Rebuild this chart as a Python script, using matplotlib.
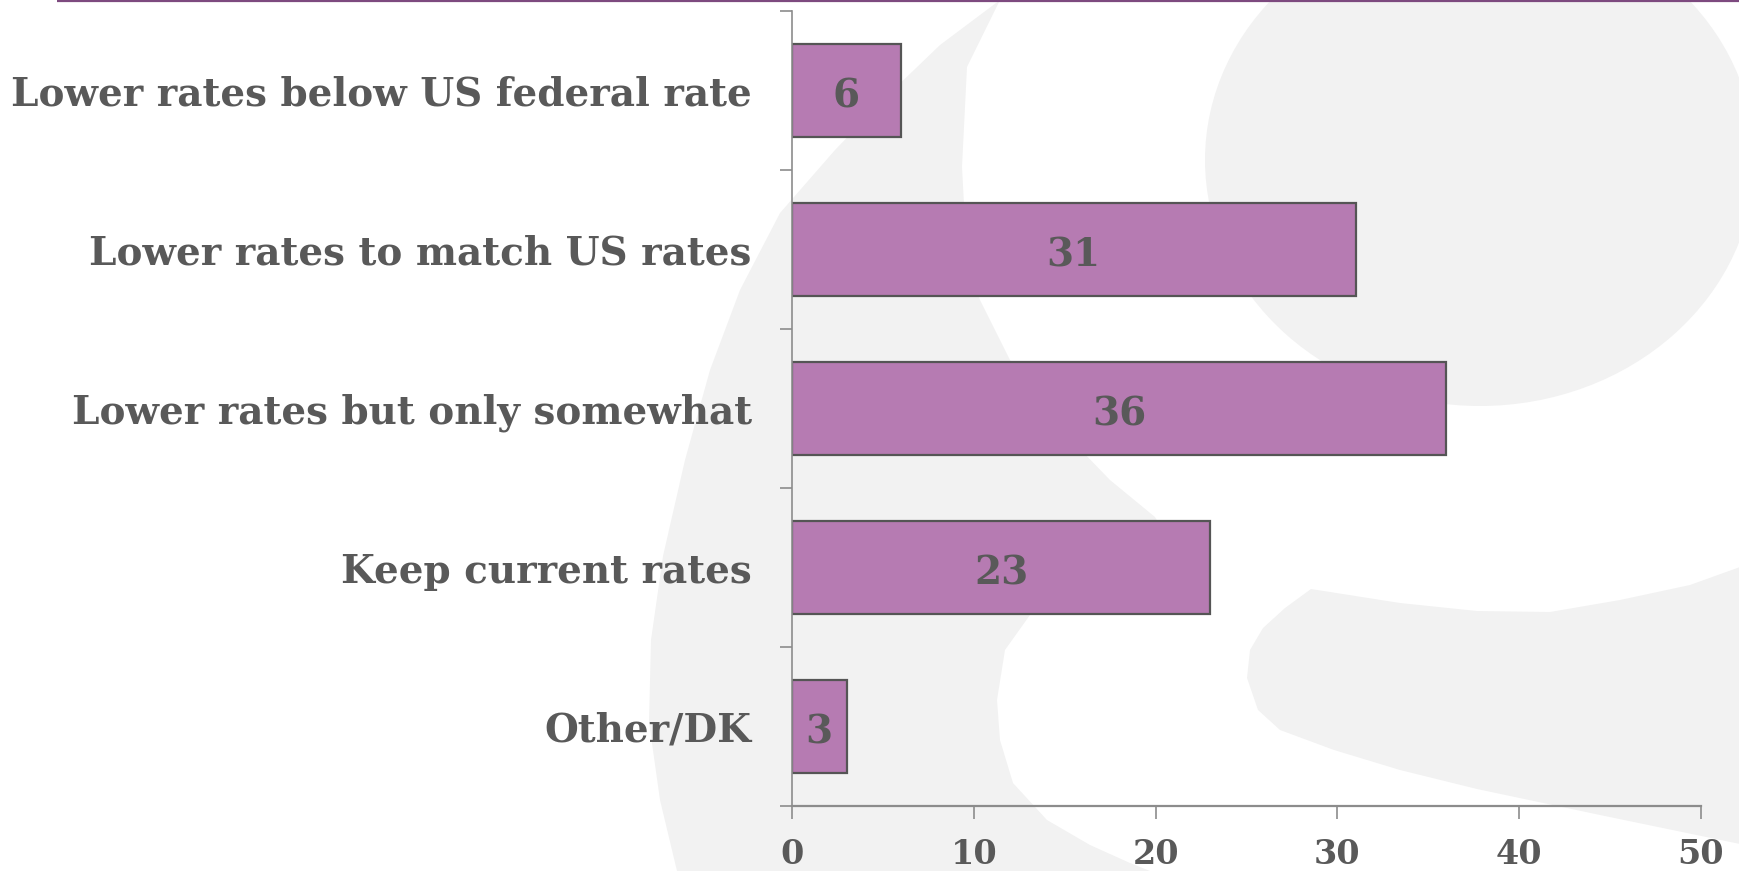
import matplotlib.pyplot as plt
from matplotlib.patches import Polygon, Ellipse

categories = [
    "Lower rates below US federal rate",
    "Lower rates to match US rates",
    "Lower rates but only somewhat",
    "Keep current rates",
    "Other/DK",
]
values = [6, 31, 36, 23, 3]
x_ticks = [0, 10, 20, 30, 40, 50]

BAR = "#b67bb2"
EDGE = "#555555"
TEXT = "#595959"
AXIS = "#8c8c8c"
BG = "#f2f2f2"
FONT = "DejaVu Serif"

W, H = 1740, 871
fig = plt.figure(figsize=(W / 100, H / 100), dpi=100)

# decorative background glyph, in pixel coordinates
bg = fig.add_axes([0, 0, 1, 1], zorder=0)
bg.set_xlim(0, W)
bg.set_ylim(H, 0)
bg.axis("off")
outer = [(1000, 0), (940, 45), (890, 93), (835, 150), (780, 213), (740, 290),
         (710, 370), (685, 460), (663, 556), (651, 640), (649, 722),
         (660, 800), (677, 871), (W, H), (W, 0)]
bg.add_patch(Polygon(outer, closed=True, fc=BG, ec="none"))
counter = [(1000, 0), (W, 0), (W, H), (1150, 871), (1130, 863), (1090, 845),
           (1047, 820), (1013, 783), (1000, 740), (997, 700), (1005, 650),
           (1030, 615), (1180, 560), (1155, 517), (1110, 480), (1049, 417),
           (1010, 360), (980, 300), (967, 260), (962, 167), (967, 67)]
bg.add_patch(Polygon(counter, closed=True, fc="white", ec="none"))
bg.add_patch(Ellipse((1480, 160), 550, 492, fc=BG, ec="none"))
tail = [(1311, 589), (1400, 603), (1477, 611), (1550, 612), (1620, 600),
        (1690, 585), (W, 567), (W, 844), (1600, 815), (1477, 789),
        (1400, 770), (1334, 750), (1280, 730), (1258, 710), (1247, 678),
        (1250, 650), (1263, 628), (1285, 608)]
bg.add_patch(Polygon(tail, closed=True, fc=BG, ec="none"))
bg.plot([57, W], [0.8, 0.8], color="#7d4a7f", lw=1.6, solid_capstyle="butt")

ax = fig.add_axes([792 / W, 65 / H, 909 / W, 795 / H], zorder=1)
ax.patch.set_alpha(0)
pos = list(range(len(categories)))
ax.barh(pos, values, height=0.58, color=BAR, edgecolor=EDGE, linewidth=1.6)
ax.set_xlim(0, 50)
ax.set_ylim(4.5, -0.5)

for p, v in zip(pos, values):
    ax.text(v / 2, p + 0.04, str(v), ha="center", va="center", fontsize=28,
            fontweight="bold", family=FONT, color=TEXT)

ax.set_xticks(x_ticks)
ax.set_xticklabels([str(t) for t in x_ticks], fontsize=24, fontweight="bold",
                   family=FONT, color=TEXT)
ax.set_yticks([p - 0.5 for p in pos] + [4.5])
ax.set_yticks(pos, minor=True)
ax.set_yticklabels([])
ax.set_yticklabels(categories, minor=True, fontsize=28, fontweight="bold",
                   family=FONT, color=TEXT)
ax.tick_params(axis="y", which="major", length=9, width=1.2, color=AXIS)
ax.tick_params(axis="y", which="minor", length=0, pad=29)
ax.tick_params(axis="x", length=9, width=1.2, color=AXIS, pad=14)

for side in ("top", "right"):
    ax.spines[side].set_visible(False)
ax.spines["left"].set_color(AXIS)
ax.spines["bottom"].set_color(AXIS)
ax.spines["left"].set_linewidth(1.2)
ax.spines["bottom"].set_linewidth(1.6)

fig.savefig("out.png", dpi=100)
